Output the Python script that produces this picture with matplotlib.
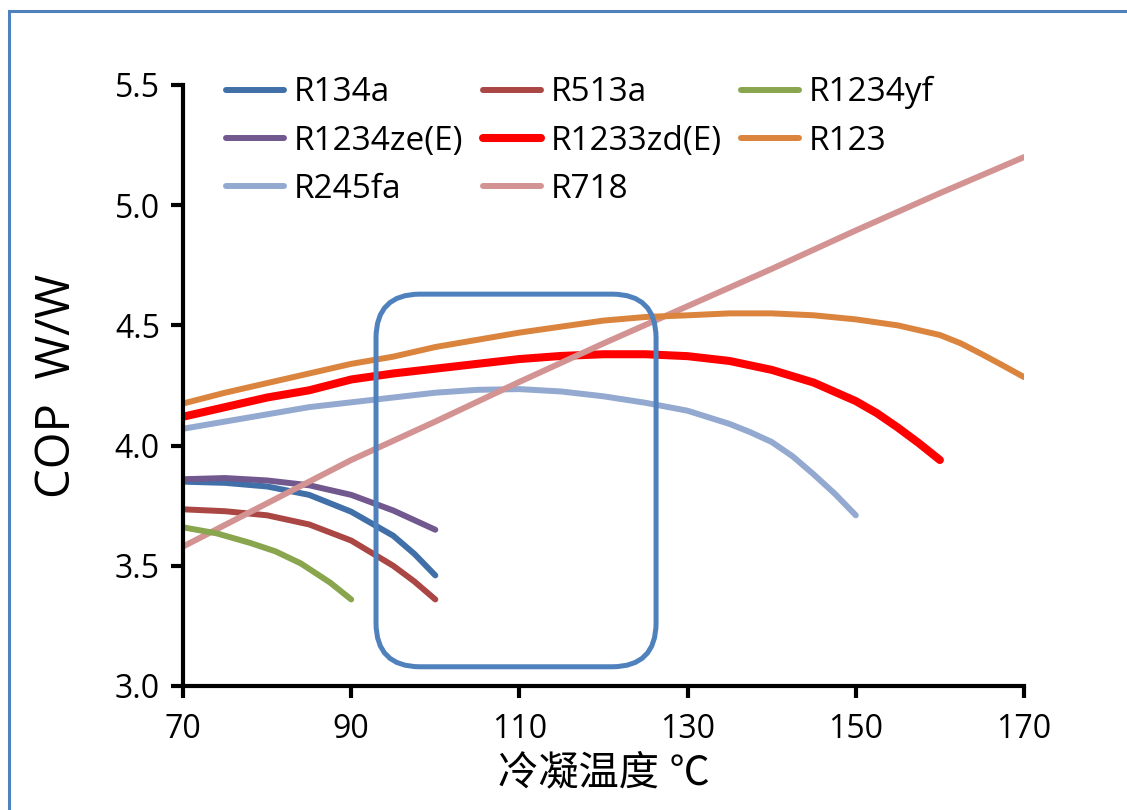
import numpy as np
import matplotlib.pyplot as plt
from matplotlib.patches import FancyBboxPatch, Rectangle

plt.rcParams['font.family'] = ['Open Sans', 'Noto Sans CJK SC', 'DejaVu Sans']

# condensing temperature (C) and COP values
t_r134a = [70, 75, 80, 85, 90, 95, 97.5, 100]
cop_r134a = [3.85, 3.845, 3.83, 3.795, 3.725, 3.625, 3.55, 3.46]

t_r1234ze = [70, 75, 80, 85, 90, 95, 100]
cop_r1234ze = [3.86, 3.865, 3.855, 3.835, 3.795, 3.73, 3.65]

t_r245fa = [70, 75, 80, 85, 90, 95, 100, 105, 110, 115, 120, 125, 130, 135,
            137.5, 140, 142.5, 145, 147.5, 150]
cop_r245fa = [4.07, 4.10, 4.13, 4.16, 4.18, 4.20, 4.22, 4.232, 4.235, 4.225,
              4.205, 4.178, 4.145, 4.09, 4.055, 4.015, 3.955, 3.88, 3.80, 3.71]

t_r513a = [70, 75, 80, 85, 90, 95, 97.5, 100]
cop_r513a = [3.735, 3.727, 3.71, 3.672, 3.605, 3.50, 3.435, 3.36]

t_r1233zd = [70, 75, 80, 85, 90, 95, 100, 105, 110, 115, 120, 125, 130, 135,
             140, 145, 150, 152.5, 155, 157.5, 160]
cop_r1233zd = [4.12, 4.16, 4.20, 4.23, 4.275, 4.30, 4.32, 4.34, 4.36, 4.373,
               4.38, 4.38, 4.372, 4.352, 4.315, 4.262, 4.185, 4.135, 4.075,
               4.01, 3.94]

t_r718 = [70, 80, 90, 100, 110, 120, 130, 140, 150, 160, 170]
cop_r718 = [3.58, 3.76, 3.94, 4.10, 4.265, 4.425, 4.58, 4.735, 4.895, 5.05, 5.20]

t_r1234yf = [70, 74, 78, 81, 84, 87.5, 90]
cop_r1234yf = [3.66, 3.635, 3.595, 3.56, 3.51, 3.43, 3.36]

t_r123 = [70, 75, 80, 85, 90, 95, 100, 105, 110, 115, 120, 125, 130, 135, 140,
          145, 150, 155, 160, 162.5, 165, 167.5, 170]
cop_r123 = [4.175, 4.22, 4.26, 4.30, 4.34, 4.37, 4.41, 4.44, 4.47, 4.495, 4.52,
            4.535, 4.542, 4.55, 4.55, 4.542, 4.525, 4.50, 4.46, 4.425, 4.38,
            4.333, 4.285]

# highlighted region (data units)
box_t = [92.95, 126.25]
box_cop = [3.08, 4.63]

# plotted in legend order (column-first fill gives the row layout of the chart)
series = [
    ('R134a', t_r134a, cop_r134a, '#4170A8', 4.3),
    ('R1234ze(E)', t_r1234ze, cop_r1234ze, '#71588F', 4.3),
    ('R245fa', t_r245fa, cop_r245fa, '#93A9CF', 4.3),
    ('R513a', t_r513a, cop_r513a, '#AA4643', 4.3),
    ('R1233zd(E)', t_r1233zd, cop_r1233zd, '#FF0000', 5.8),
    ('R718', t_r718, cop_r718, '#D39392', 4.3),
    ('R1234yf', t_r1234yf, cop_r1234yf, '#89A54E', 4.3),
    ('R123', t_r123, cop_r123, '#DB843D', 4.3),
]

fig = plt.figure(figsize=(11.27, 8.10), dpi=100)
ax = fig.add_axes([0.16238, 0.15309, 0.74623, 0.74198])

for name, t, cop, col, lw in series:
    ax.plot(t, cop, color=col, lw=lw, label=name, solid_capstyle='round',
            solid_joinstyle='round')

ax.set_xlim(70, 170)
ax.set_ylim(3.0, 5.5)
ax.set_xticks(np.arange(70, 171, 20))
ax.set_yticks(np.arange(3.0, 5.51, 0.5))
ax.yaxis.set_major_formatter(plt.FormatStrFormatter('%.1f'))

for s in ['top', 'right']:
    ax.spines[s].set_visible(False)
for s in ['left', 'bottom']:
    ax.spines[s].set_linewidth(3)
ax.tick_params(direction='out', length=8.6, width=3, labelsize=23)
ax.tick_params(axis='x', pad=11)
ax.tick_params(axis='y', pad=8)

ax.set_xlabel('冷凝温度 ℃', fontsize=29, va='center')
ax.xaxis.set_label_coords(0.5, -0.146)
ax.set_ylabel('COP  W/W', fontsize=34, va='center')
ax.yaxis.set_label_coords(-0.15, 0.5)

# rounded highlight box: make corners circular in pixels
xr = 841 / (170 - 70)
yr = 601 / (5.5 - 3.0)
box = FancyBboxPatch((box_t[0], box_cop[0]), box_t[1] - box_t[0], box_cop[1] - box_cop[0],
                     boxstyle='round,pad=0,rounding_size=%f' % (44 / xr),
                     mutation_aspect=xr / yr, fill=False, ec='#4F81BD', lw=3.6,
                     zorder=5)
ax.add_patch(box)

ax.legend(ncol=3, loc='upper left', bbox_to_anchor=(226 / 1127, 1 - 76 / 810),
          bbox_transform=fig.transFigure, frameon=False, fontsize=24,
          handlelength=1.74, handletextpad=0.3, columnspacing=0.57,
          labelspacing=0.46, borderpad=0, borderaxespad=0)

# outer frame of the chart area
fig.patches.append(Rectangle((8.5 / 1127, -0.1), 1.2, 1 - 11 / 810 + 0.1,
                             transform=fig.transFigure, fill=False,
                             ec='#4F81BD', lw=2.2))

fig.savefig('out.png', dpi=100)
